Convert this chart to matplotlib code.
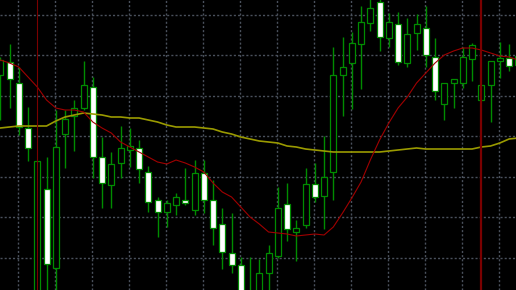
import numpy as np
import matplotlib
matplotlib.use("Agg")
import matplotlib.pyplot as plt
from matplotlib.patches import Rectangle

# candle data (price units, arbitrary)
opens = [215, 228, 207, 162, -20, 101, 22, 156, 174, 182, 203, 133, 105, 127, 140,
         142, 118, 90, 78, 85, 90, 80, 117, 90, 66, 37, 25, -15, -10, 17,
         34, 86, 58, 65, 106, 94, 118, 215, 227, 246, 267, 288, 252, 266, 227,
         257, 262, 233, 186, 207, 207, 231, 190, 205, 229, 232, 225]
highs = [233, 246, 223, 183, 129, 133, 180, 180, 190, 229, 213, 153, 138, 164, 162,
         150, 124, 93, 90, 97, 122, 130, 130, 110, 82, 77, 33, 33, 31, 45,
         103, 107, 70, 122, 127, 154, 243, 253, 258, 284, 295, 292, 277, 278, 272,
         276, 284, 252, 207, 211, 243, 247, 205, 229, 248, 246, 234]
lows = [170, 182, 155, 129, -30, -10, -10, 122, 139, 180, 112, 82, 82, 112, 123,
        107, 78, 53, 63, 75, 85, 75, 77, 45, 21, 17, -20, -20, -15, -10,
        32, 49, 29, 62, 88, 61, 90, 174, 181, 201, 259, 239, 243, 225, 223,
        240, 223, 190, 170, 182, 202, 209, 190, 168, 212, 219, 225]
closes = [230, 211, 163, 142, 129, 26, 143, 171, 182, 205, 133, 107, 126, 142, 144,
          121, 88, 78, 87, 93, 87, 117, 90, 62, 38, 25, -10, -3, 17, 37,
          82, 61, 62, 106, 93, 113, 215, 223, 247, 268, 282, 253, 268, 228, 256,
          266, 235, 199, 207, 211, 233, 245, 205, 229, 232, 224, 234]

ma_fast = [230, 227, 223, 213, 203, 190, 182, 180, 180, 178, 168, 162, 157, 148, 143,
           138, 133, 128, 126, 130, 127, 123, 118, 107, 98, 93, 83, 73, 66, 58,
           57, 56, 54, 55, 56, 55, 63, 77, 92, 108, 130, 150, 167, 182, 193,
           207, 217, 227, 235, 239, 242, 242, 240, 237, 234, 233, 230]
ma_slow = [162, 163, 164, 164, 164, 164, 169, 173, 175, 177, 176, 175, 173, 173, 172,
           172, 170, 168, 165, 163, 163, 163, 162, 161, 158, 156, 153, 151, 149, 148,
           147, 144, 143, 141, 140, 139, 138, 138, 138, 138, 138, 138, 139, 140, 141,
           142, 141, 141, 141, 141, 141, 141, 143, 144, 147, 151, 152]

separators = [4, 52]

bull_col = '#008c00'
width = 0.65

fig = plt.figure(figsize=(5.16, 2.90), dpi=100, facecolor='black')
ax = fig.add_axes([0, 0, 1, 1])
ax.set_facecolor('black')

x = np.arange(len(opens))

# grid
for gx in np.arange(1.91, 57, 4):
    ax.axvline(gx, color='#4a515c', lw=1, ls=(0, (1.5, 1.5)), zorder=0)
for gy in np.arange(275.3, 0, -40.5):
    ax.axhline(gy, color='#4a515c', lw=1, ls=(0, (1.5, 1.5)), zorder=0)

# candles
for i in x:
    o, h, l, c = opens[i], highs[i], lows[i], closes[i]
    ax.vlines(i, l, h, color=bull_col, lw=1, zorder=2)
    face = 'black' if c >= o else 'white'
    lo = min(o, c)
    ax.add_patch(Rectangle((i - width / 2, lo), width, abs(c - o),
                           facecolor=face, edgecolor=bull_col, lw=0.9, zorder=3))

ax.plot(x, ma_slow, color='#9a9a00', lw=1.2, zorder=4)
ax.plot(x, ma_fast, color='#a00000', lw=0.8, zorder=4)

ax.axvline(separators[0], color='#7a0000', lw=0.8, zorder=5)
ax.axvline(separators[1], color='#7a0000', lw=1.6, zorder=5)

ax.set_xlim(-0.03, 55.75)
ax.set_ylim(0, 290)
ax.axis('off')

fig.savefig('out.png', dpi=100, facecolor='black')
